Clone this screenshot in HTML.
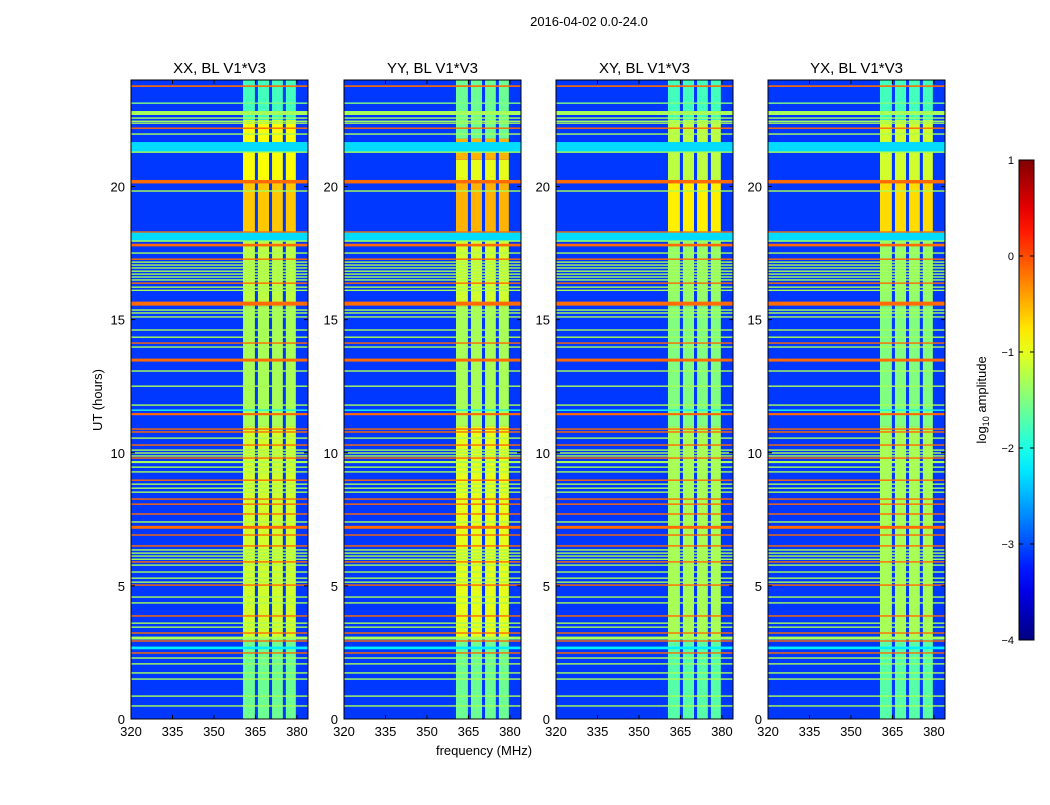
<!DOCTYPE html>
<html><head><meta charset="utf-8"><style>
body{margin:0;background:#fff;font-family:"Liberation Sans",sans-serif}
svg text{font-family:"Liberation Sans",sans-serif}
</style></head><body>
<svg id="fig" width="1050" height="800" xmlns="http://www.w3.org/2000/svg">
<rect width="1050" height="800" fill="#fff"/>
<text x="589" y="26" font-size="13" text-anchor="middle">2016-04-02 0.0-24.0</text>
<text x="484" y="755" font-size="13" text-anchor="middle">frequency (MHz)</text>
<text transform="translate(102,400) rotate(-90)" font-size="13" text-anchor="middle">UT (hours)</text>
<g id="panels"></g>
<defs><linearGradient id="jet" x1="0" y1="1" x2="0" y2="0"></linearGradient></defs>
<rect x="1019" y="160" width="15" height="480" fill="url(#jet)" stroke="#000" stroke-width="1"/>
<g id="cbticks"></g>
<text transform="translate(986,400) rotate(-90)" font-size="13" text-anchor="middle">log<tspan font-size="9" dy="3">10</tspan><tspan dy="-3"> amplitude</tspan></text>
</svg>
<script>
const panelTitles=["XX, BL V1*V3","YY, BL V1*V3","XY, BL V1*V3","YX, BL V1*V3"];
const xTicks=[320,335,350,365,380];
const yTicks=[0,5,10,15,20];
const cbTicks=[1,0,-1,-2,-3,-4];
const bgLevel=-3.1;
const bandCols=[[360.5,364.8],[365.9,369.9],[371,374.9],[376,379.6]];
const bandSeg1=[[0,3,-1.6],[3,11,-1.1],[11,15.5,-1.3],[15.5,18.2,-1.2],[18.2,20.2,-0.6],[20.2,22.5,-0.9],[22.5,24,-1.8]];
const bandSeg2=[[0,3,-1.6],[3,11,-1.0],[11,15.5,-1.3],[15.5,18.2,-1.1],[18.2,20.2,-0.5],[20.2,21,-1.0],[21,21.8,-0.5],[21.8,24,-1.6]];
const bandSeg3=[[0,3,-1.7],[3,11,-1.3],[11,15.5,-1.5],[15.5,18.2,-1.4],[18.2,20.2,-0.8],[20.2,22.5,-1.2],[22.5,24,-1.8]];
const bandSeg4=[[0,3,-1.7],[3,11,-1.3],[11,15.5,-1.5],[15.5,18.2,-1.4],[18.2,20.2,-0.7],[20.2,22.5,-1.1],[22.5,24,-1.8]];
const rfiHours=[23.77,23.13,22.76,22.57,22.45,22.38,22.19,21.97,21.48,21.29,20.18,19.83,18.29,18.1,17.95,17.8,17.5,17.27,17.16,17.05,16.94,16.82,16.71,16.6,16.49,16.37,16.22,16.1,15.6,15.36,15.25,15.1,14.61,14.34,14.12,13.97,13.48,13.07,12.5,11.79,11.6,11.45,10.89,10.78,10.55,10.29,10.1,9.99,9.88,9.8,9.65,9.46,9.28,8.97,8.82,8.67,8.52,8.26,8.07,7.7,7.4,7.2,6.91,6.5,6.35,6.23,6.12,6.0,5.9,5.78,5.52,5.29,5.14,5.03,4.58,4.36,3.87,3.6,3.45,3.23,3.04,2.93,2.67,2.48,2.29,2.07,1.73,1.5,0.86,0.49];
const rfiLevels=[-0.15,-1.5,-1.3,-1.3,-1.3,-1.3,-0.15,-1.3,-2.3,-1.3,-0.15,-1.3,-0.15,-2.3,-1.3,-0.15,-1.3,-0.15,-1.3,-1.3,-1.3,-1.3,-1.3,-1.3,-1.3,-0.15,-1.3,-1.3,-0.15,-1.3,-1.3,-1.3,-1.3,-1.3,-0.15,-1.3,-0.15,-1.3,-1.3,-1.3,-2.0,-0.15,-0.15,-0.15,-1.3,-0.15,-1.3,-1.3,-1.3,-0.15,-1.3,-1.3,-1.3,-0.15,-1.3,-1.3,-1.3,-0.15,-0.15,-0.15,-1.3,-0.15,-0.15,-0.15,-1.3,-1.3,-1.3,-1.3,-0.15,-1.3,-1.3,-1.3,-1.3,-0.15,-1.3,-1.3,-0.15,-1.3,-1.3,-0.15,-1.3,-0.15,-2.2,-0.15,-1.3,-1.3,-1.3,-1.3,-1.3,-1.3];
const rfiThick=[0.06,0.05,0.15,0.05,0.05,0.05,0.05,0.05,0.38,0.05,0.13,0.05,0.05,0.33,0.05,0.1,0.05,0.05,0.05,0.05,0.05,0.05,0.05,0.05,0.05,0.05,0.05,0.05,0.15,0.05,0.05,0.05,0.05,0.05,0.05,0.05,0.11,0.05,0.05,0.05,0.05,0.08,0.05,0.05,0.05,0.05,0.05,0.05,0.05,0.05,0.08,0.05,0.05,0.05,0.05,0.05,0.05,0.05,0.05,0.05,0.05,0.11,0.05,0.05,0.05,0.05,0.05,0.05,0.05,0.05,0.05,0.05,0.05,0.05,0.05,0.05,0.05,0.05,0.05,0.05,0.11,0.05,0.1,0.05,0.05,0.05,0.05,0.05,0.05,0.05];
const bandSegs=[bandSeg1,bandSeg2,bandSeg3,bandSeg4];
const panelLeft=[131,344,556,768];

function jet(t){t=Math.max(0,Math.min(1,t));
 const c=v=>Math.round(255*Math.max(0,Math.min(1,v)));
 const r=Math.min(4*t-1.5,-4*t+4.5),g=Math.min(4*t-0.5,-4*t+3.5),b=Math.min(4*t+0.5,-4*t+2.5);
 return `rgb(${c(r)},${c(g)},${c(b)})`;}
const col=v=>jet((v+4)/5);
const NS="http://www.w3.org/2000/svg";
function mk(tag,at,parent){const e=document.createElementNS(NS,tag);for(const k in at)e.setAttribute(k,at[k]);parent.appendChild(e);return e;}
const Y0=719,Y1=80,PW=177;
const yS=h=>Y0+(Y1-Y0)*h/24;
const panels=document.getElementById('panels');
panelTitles.forEach((title,i)=>{
 const L=panelLeft[i];const xS=f=>L+(f-320)/64*PW;
 const g=mk('g',{},panels);
 
 
 const bg=mk('rect',{x:L,y:Y1,width:PW,height:Y0-Y1,fill:col(bgLevel)},g);
 
 
 bandCols.forEach(bc=>{bandSegs[i].forEach(s=>{
  const r=mk('rect',{x:xS(bc[0]),y:yS(s[1]),width:xS(bc[1])-xS(bc[0]),height:yS(s[0])-yS(s[1]),fill:col(s[2])},g);
  
  });});
 rfiHours.forEach((h,k)=>{
  const th=Math.max(1.4,(yS(0)-yS(rfiThick[k])));
  const r=mk('rect',{x:L,y:yS(h)-th/2,width:PW,height:th,fill:col(rfiLevels[k])},g);
  
  });
 mk('rect',{x:L,y:Y1,width:PW,height:Y0-Y1,fill:'none',stroke:'#000','stroke-width':1},g);
 const t=mk('text',{x:L+PW/2,y:73,'font-size':15,'text-anchor':'middle'},g);t.textContent=title;
 
 
 xTicks.forEach(v=>{const x=xS(v);
  mk('line',{x1:x,x2:x,y1:Y0,y2:Y0-4,stroke:'#000'},g);mk('line',{x1:x,x2:x,y1:Y1,y2:Y1+4,stroke:'#000'},g);
  const tt=mk('text',{x:x,y:736,'font-size':13,'text-anchor':'middle'},g);tt.textContent=v;
  
  });
 yTicks.forEach(v=>{const y=yS(v);
  mk('line',{x1:L,x2:L+4,y1:y,y2:y,stroke:'#000'},g);mk('line',{x1:L+PW,x2:L+PW-4,y1:y,y2:y,stroke:'#000'},g);
  const tt=mk('text',{x:L-6,y:y+5,'font-size':13,'text-anchor':'end'},g);tt.textContent=v;
  
  });
});
const grad=document.getElementById('jet');
for(let k=0;k<=20;k++){mk('stop',{offset:(k/20),'stop-color':jet(k/20)},grad);}
const cbg=document.getElementById('cbticks');
cbTicks.forEach(v=>{const y=640-(v+4)/5*480;
 mk('line',{x1:1019,x2:1023,y1:y,y2:y,stroke:'#000'},cbg);mk('line',{x1:1034,x2:1030,y1:y,y2:y,stroke:'#000'},cbg);
 const tt=mk('text',{x:1014,y:y+4,'font-size':11,'text-anchor':'end'},cbg);tt.textContent=(v<0?'\u2212'+(-v):v);
 
 });
</script>
</body></html>
